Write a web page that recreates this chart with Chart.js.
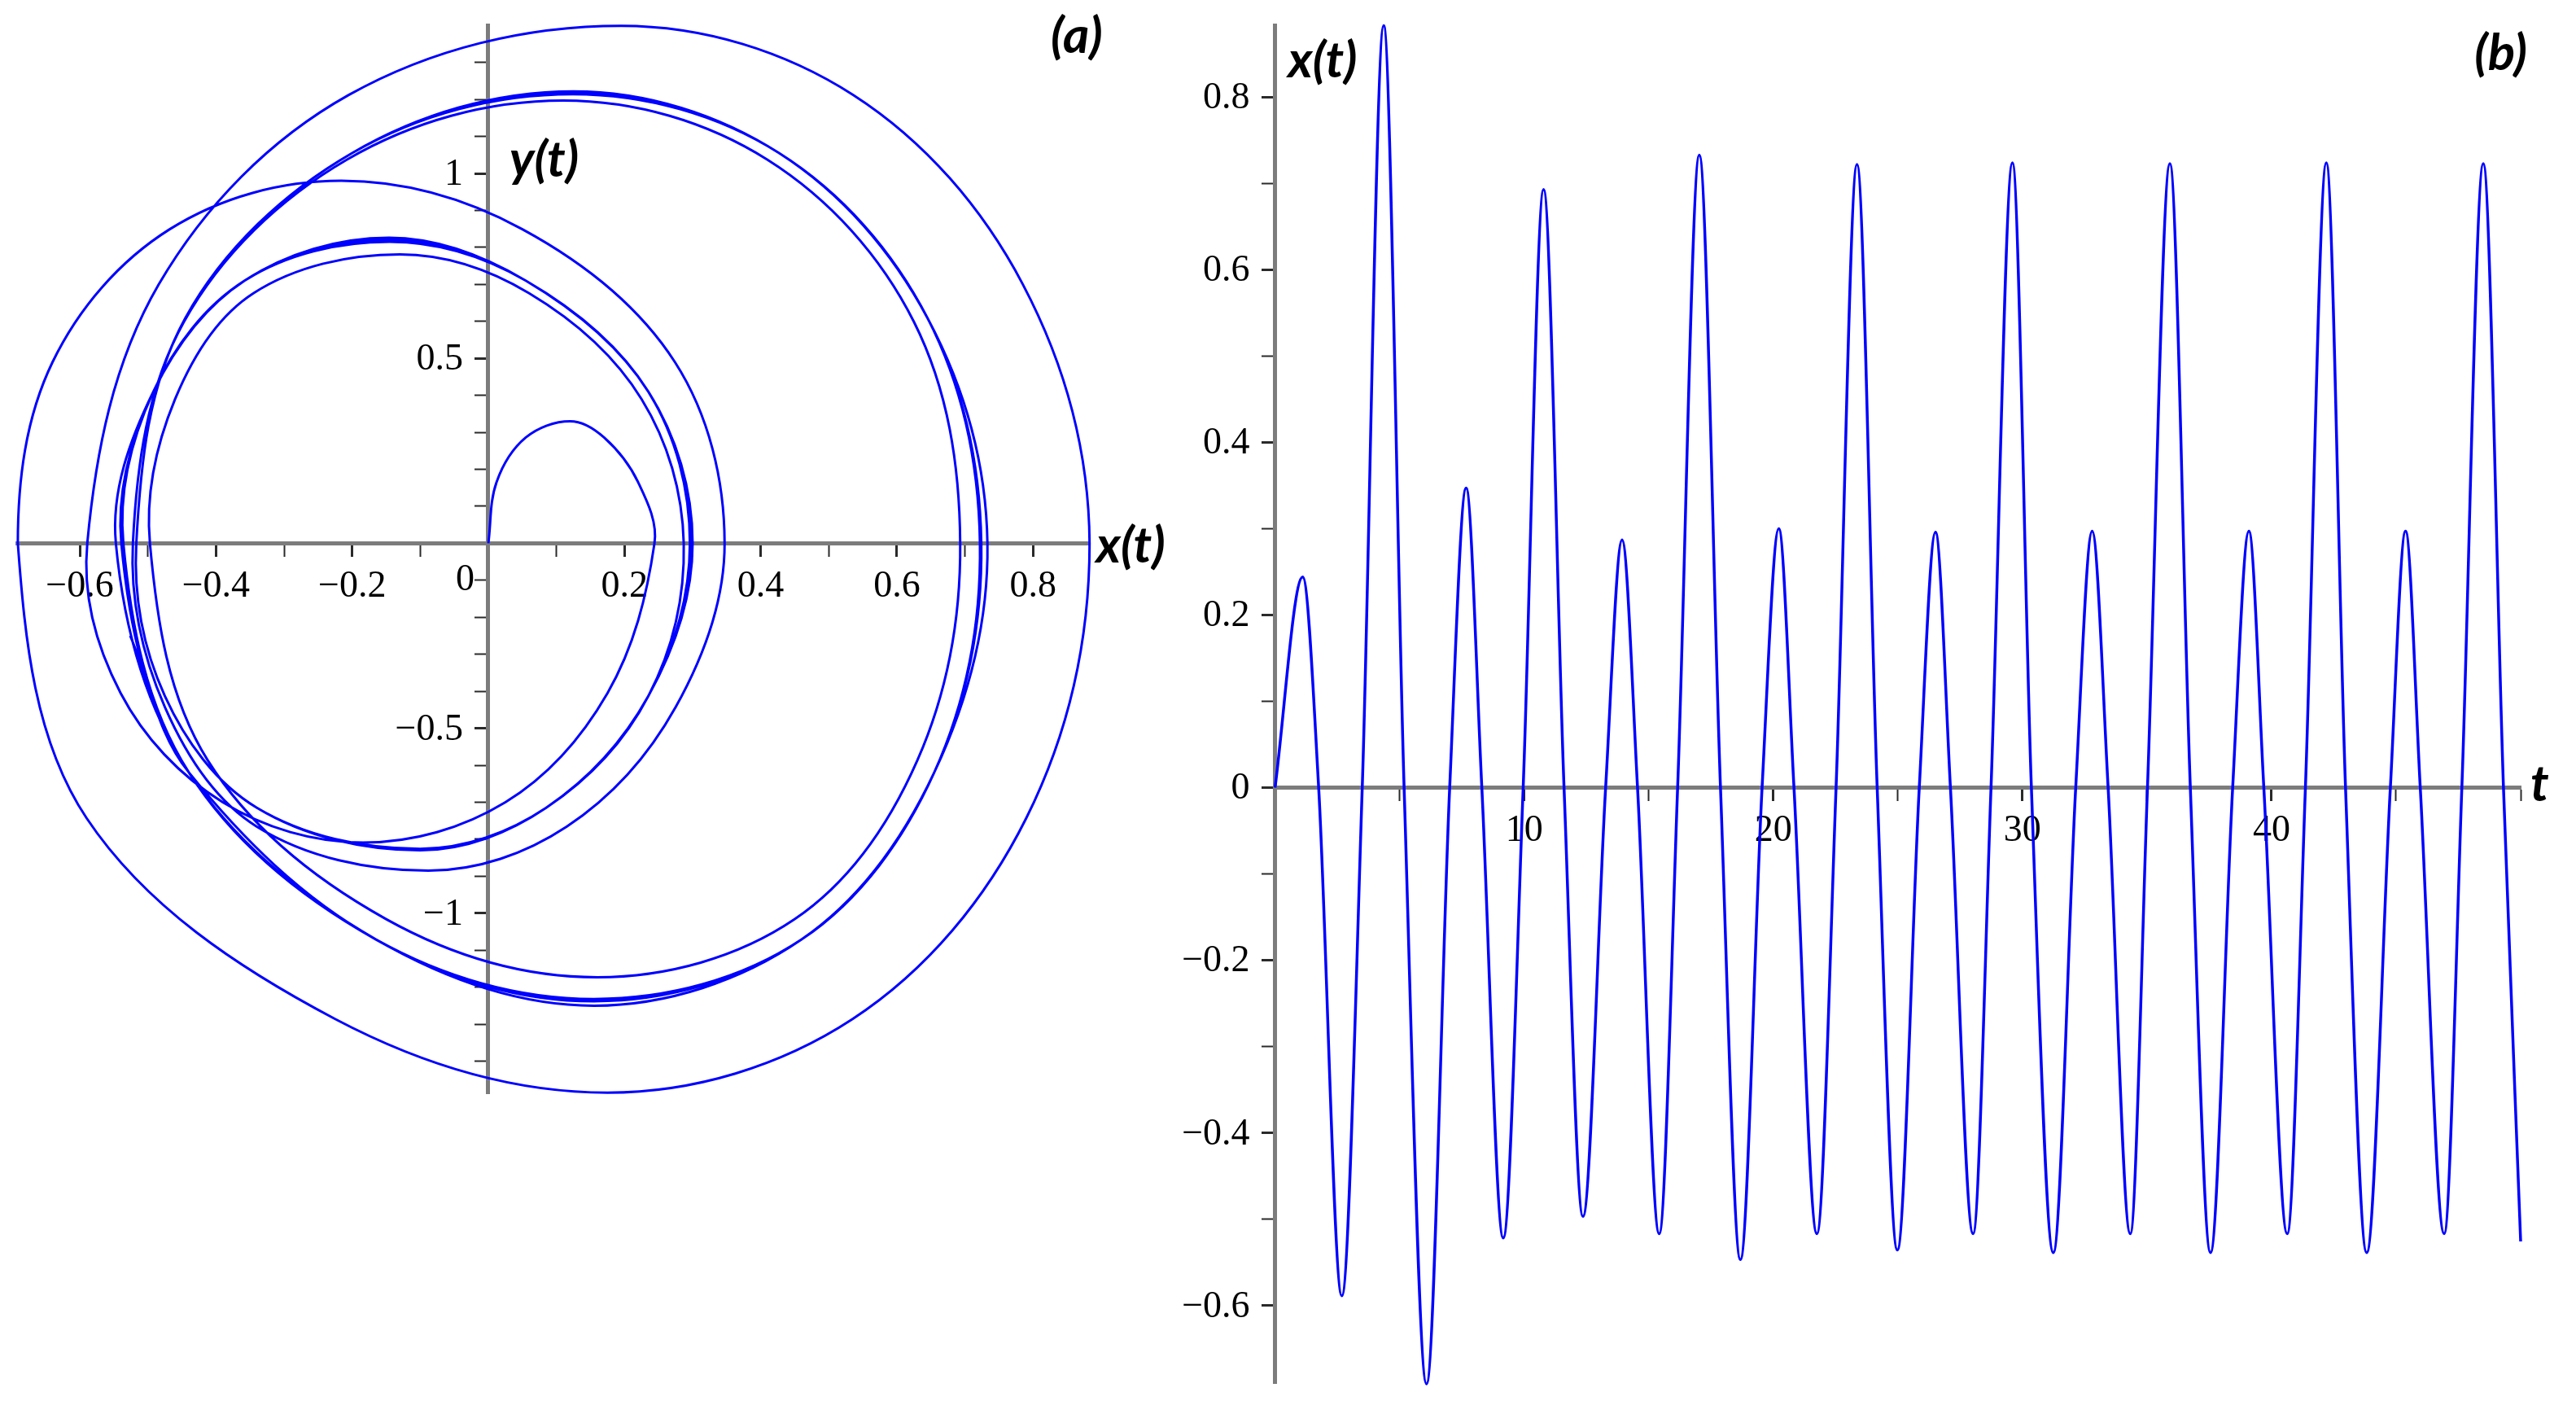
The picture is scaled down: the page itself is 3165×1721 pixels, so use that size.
<!DOCTYPE html>
<html>
<head>
<meta charset="utf-8">
<script src="https://cdn.jsdelivr.net/npm/chart.js@4.4.1/dist/chart.umd.min.js"></script>
<style>
  html, body { margin: 0; padding: 0; background: #fff; overflow: hidden; width: 3165px; height: 1721px; position: relative; }
  canvas { position: absolute; }
  #phase { left: -100px; top: -100px; }
  #series { left: 1380px; top: -100px; }
</style>
</head>
<body>
<canvas id="phase" width="1600" height="1921"></canvas>
<canvas id="series" width="1885" height="1921"></canvas>
<script>
// (b) x(t): extrema and zero crossings
const tValues = [0, 1.11, 1.75, 2.68, 3.50, 4.36, 5.18, 6.08, 7.01, 7.67, 8.30, 9.16, 9.96, 10.78, 11.60, 12.36,
  13.27, 13.93, 14.55, 15.42, 16.16, 17.03, 17.88, 18.68, 19.55, 20.22, 20.83, 21.75, 22.52, 23.36, 24.17,
  24.98, 25.86, 26.51, 27.11, 28.02, 28.74, 29.60, 30.36, 31.24, 32.14, 32.80, 33.44, 34.33, 35.02, 35.92,
  36.74, 37.55, 38.44, 39.09, 39.69, 40.63, 41.36, 42.20, 42.97, 43.82, 44.77, 45.38, 45.97, 46.93, 47.64,
  48.50, 49.31, 50.0];
const xValues = [0, 0.244, 0, -0.589, 0, 0.883, 0, -0.691, 0, 0.347, 0, -0.522, 0, 0.693, 0, -0.497,
  0, 0.287, 0, -0.517, 0, 0.733, 0, -0.547, 0, 0.300, 0, -0.517, 0, 0.722, 0,
  -0.536, 0, 0.296, 0, -0.517, 0, 0.724, 0, -0.539, 0, 0.297, 0, -0.517, 0, 0.723,
  0, -0.539, 0, 0.297, 0, -0.517, 0, 0.724, 0, -0.539, 0, 0.297, 0, -0.517, 0,
  0.723, 0, -0.526];

// (a) phase portrait, points read along each half loop (one line per half loop,
// ending where the loop crosses the x axis)
const phaseX = [
  0, 0.012, 0.055, 0.120, 0.170, 0.220, 0.244,
  0.175, 0.025, -0.184, -0.390, -0.540, -0.589,
  -0.484, -0.205, 0.195, 0.536, 0.785, 0.883,
  0.790, 0.535, 0.175, -0.225, -0.590, -0.691,
  -0.640, -0.468, -0.216, 0.050, 0.274, 0.347,
  0.275, 0.115, -0.088, -0.340, -0.475, -0.522,
  -0.447, -0.208, 0.110, 0.410, 0.625, 0.693,
  0.630, 0.450, 0.160, -0.150, -0.412, -0.497,
  -0.460, -0.345, -0.130, 0.060, 0.225, 0.287,
  0.235, 0.085, -0.100, -0.340, -0.475, -0.517,
  -0.445, -0.200, 0.125, 0.427, 0.645, 0.733,
  0.655, 0.460, 0.155, -0.165, -0.440, -0.547,
  -0.492, -0.358, -0.146, 0.055, 0.235, 0.300,
  0.235, 0.085, -0.100, -0.340, -0.475, -0.517,
  -0.445, -0.200, 0.124, 0.427, 0.645, 0.722,
  0.655, 0.460, 0.155, -0.165, -0.440, -0.536,
  -0.492, -0.358, -0.145, 0.055, 0.235, 0.296,
  0.235, 0.085, -0.100, -0.340, -0.475, -0.517,
  -0.445, -0.200, 0.125, 0.427, 0.645, 0.724,
  0.655, 0.460, 0.155, -0.165, -0.440, -0.539,
  -0.492, -0.358, -0.146, 0.055, 0.235, 0.297,
  0.235, 0.085, -0.100, -0.340, -0.475, -0.517,
  -0.445, -0.200, 0.125, 0.427, 0.645, 0.723,
  0.655, 0.460, 0.155, -0.165, -0.440, -0.539,
  -0.492, -0.358, -0.146, 0.055, 0.235, 0.297,
  0.235, 0.085, -0.100, -0.340, -0.475, -0.517,
  -0.445, -0.200, 0.125, 0.427, 0.645, 0.724,
  0.655, 0.460, 0.155, -0.165, -0.440, -0.539,
  -0.492, -0.358, -0.146, 0.055, 0.235, 0.297,
  0.235, 0.085, -0.100, -0.340, -0.475, -0.517,
  -0.445, -0.200, 0.125, 0.427, 0.645, 0.723,
  0.655, 0.460, 0.155, -0.165, -0.440, -0.526
];
const phaseY = [
  0, 0.165, 0.286, 0.330, 0.286, 0.165, 0,
  -0.405, -0.700, -0.809, -0.700, -0.405, 0,
  0.700, 1.212, 1.399, 1.212, 0.700, 0,
  -0.743, -1.286, -1.485, -1.286, -0.743, 0,
  0.490, 0.849, 0.980, 0.849, 0.490, 0,
  -0.443, -0.766, -0.885, -0.766, -0.443, 0,
  0.599, 1.037, 1.197, 1.037, 0.599, 0,
  -0.587, -1.016, -1.173, -1.016, -0.587, 0,
  0.390, 0.676, 0.781, 0.676, 0.390, 0,
  -0.413, -0.715, -0.826, -0.715, -0.413, 0,
  0.609, 1.055, 1.222, 1.055, 0.609, 0,
  -0.619, -1.071, -1.250, -1.071, -0.619, 0,
  0.410, 0.710, 0.826, 0.710, 0.410, 0,
  -0.413, -0.715, -0.830, -0.715, -0.413, 0,
  0.609, 1.055, 1.214, 1.055, 0.609, 0,
  -0.619, -1.071, -1.232, -1.071, -0.619, 0,
  0.410, 0.710, 0.815, 0.710, 0.410, 0,
  -0.413, -0.715, -0.826, -0.715, -0.413, 0,
  0.609, 1.055, 1.217, 1.055, 0.609, 0,
  -0.619, -1.071, -1.238, -1.071, -0.619, 0,
  0.410, 0.710, 0.820, 0.710, 0.410, 0,
  -0.413, -0.715, -0.828, -0.715, -0.413, 0,
  0.609, 1.055, 1.216, 1.055, 0.609, 0,
  -0.619, -1.071, -1.237, -1.071, -0.619, 0,
  0.410, 0.710, 0.820, 0.710, 0.410, 0,
  -0.413, -0.715, -0.828, -0.715, -0.413, 0,
  0.609, 1.055, 1.217, 1.055, 0.609, 0,
  -0.619, -1.071, -1.238, -1.071, -0.619, 0,
  0.410, 0.710, 0.820, 0.710, 0.410, 0,
  -0.413, -0.715, -0.828, -0.715, -0.413, 0,
  0.609, 1.055, 1.216, 1.055, 0.609, 0,
  -0.619, -1.071, -1.237, -1.071, -0.619, -0.250
];

const phaseXLabels = [-0.6, -0.4, -0.2, 0.2, 0.4, 0.6, 0.8];
const phaseYLabels = [-1, -0.5, 0.5, 1];
const timeLabels = [10, 20, 30, 40];
const seriesLabels = [-0.6, -0.4, -0.2, 0, 0.2, 0.4, 0.6, 0.8];

const phaseXRange = [-0.691, 0.883];
const phaseYRange = [-1.487, 1.399];
const timeRange = [0, 50];
const seriesRange = [-0.691, 0.883];

const blue = '#0000ff';
const axisColor = '#7c7c7c';
const tickColor = '#2a2a2a';
const serif = '46px "Liberation Serif"';
const titleFont = 'italic bold 62px Lato';

function fmt(v) {
  return v < 0 ? '\u2212' + Math.abs(v) : String(v);
}
function isIn(list, v) {
  return list.some(l => Math.abs(l - v) < 1e-6);
}

function axis(posObj, range, step, labels, showLabels) {
  return {
    type: 'linear',
    position: posObj,
    min: range[0],
    max: range[1],
    border: { color: axisColor, width: 5 },
    grid: {
      drawOnChartArea: false,
      tickLength: 14,
      tickColor: tickColor,
      tickWidth: c => isIn(labels, c.tick.value) ? 3 : 2
    },
    ticks: {
      stepSize: step,
      includeBounds: false,
      autoSkip: false,
      maxRotation: 0,
      padding: 12,
      color: '#000',
      font: { family: 'Liberation Serif', size: 46 },
      callback: v => (showLabels && isIn(labels, v)) ? fmt(Math.round(v * 10) / 10) : ''
    }
  };
}

// y tick labels sit left of the axis line, titles next to the axes
const axisText = {
  id: 'axisText',
  afterDraw(chart, args, opts) {
    const { ctx } = chart;
    const sx = chart.scales.x, sy = chart.scales.y;
    const x0 = sx.getPixelForValue(0);
    ctx.save();
    ctx.fillStyle = '#000';
    ctx.textBaseline = 'middle';
    ctx.font = serif;
    ctx.textAlign = 'right';
    sy.ticks.forEach(tk => {
      if (isIn(opts.yLabels, tk.value)) {
        ctx.fillText(fmt(Math.round(tk.value * 10) / 10), x0 - 31, sy.getPixelForValue(tk.value) + 2);
      }
    });
    opts.items.forEach(it => {
      ctx.font = it.font || titleFont;
      ctx.textAlign = it.align || 'left';
      ctx.fillText(it.text, sx.getPixelForValue(it.x) + (it.dx || 0), sy.getPixelForValue(it.y) + (it.dy || 0));
    });
    ctx.restore();
  }
};

new Chart(document.getElementById('phase'), {
  type: 'scatter',
  data: {
    datasets: [{
      data: phaseX.map((x, i) => ({ x: x, y: phaseY[i] })),
      showLine: true,
      borderColor: blue,
      borderWidth: 3,
      pointRadius: 0,
      tension: 0.35,
      clip: 10
    }]
  },
  options: {
    responsive: false,
    animation: false,
    devicePixelRatio: 1,
    layout: { padding: { left: 121.9, right: 161.3, top: 131.7, bottom: 477.9 } },
    plugins: {
      legend: { display: false },
      tooltip: { enabled: false },
      axisText: {
        yLabels: phaseYLabels,
        items: [
          { text: '(a)', x: 0.864, y: 1.37, align: 'center' },
          { text: 'y(t)', x: 0, dx: 26, y: 1.035 },
          { text: 'x(t)', x: 0.883, dx: 8, y: 0, dy: 4 },
          { text: '0', x: 0, dx: -17, y: 0, dy: 46, align: 'right', font: serif }
        ]
      }
    },
    scales: {
      x: axis({ y: 0 }, phaseXRange, 0.1, phaseXLabels, true),
      y: axis({ x: 0 }, phaseYRange, 0.1, phaseYLabels, false)
    }
  },
  plugins: [axisText]
});

new Chart(document.getElementById('series'), {
  type: 'line',
  data: {
    datasets: [{
      data: tValues.map((t, i) => ({ x: t, y: xValues[i] })),
      borderColor: blue,
      borderWidth: 3.5,
      pointRadius: 0,
      cubicInterpolationMode: 'monotone',
      fill: false,
      clip: 10
    }]
  },
  options: {
    responsive: false,
    animation: false,
    devicePixelRatio: 1,
    layout: { padding: { left: 186.6, right: 168, top: 131.4, bottom: 121.1 } },
    plugins: {
      legend: { display: false },
      tooltip: { enabled: false },
      axisText: {
        yLabels: seriesLabels,
        items: [
          { text: 'x(t)', x: 0, dx: 16, y: 0.842 },
          { text: '(b)', x: 49.2, y: 0.85, align: 'center' },
          { text: 't', x: 50, dx: 12, y: 0, dy: -3 }
        ]
      }
    },
    scales: {
      x: axis({ y: 0 }, timeRange, 5, timeLabels, true),
      y: axis({ x: 0 }, seriesRange, 0.1, seriesLabels, false)
    }
  },
  plugins: [axisText]
});
</script>
</body>
</html>
